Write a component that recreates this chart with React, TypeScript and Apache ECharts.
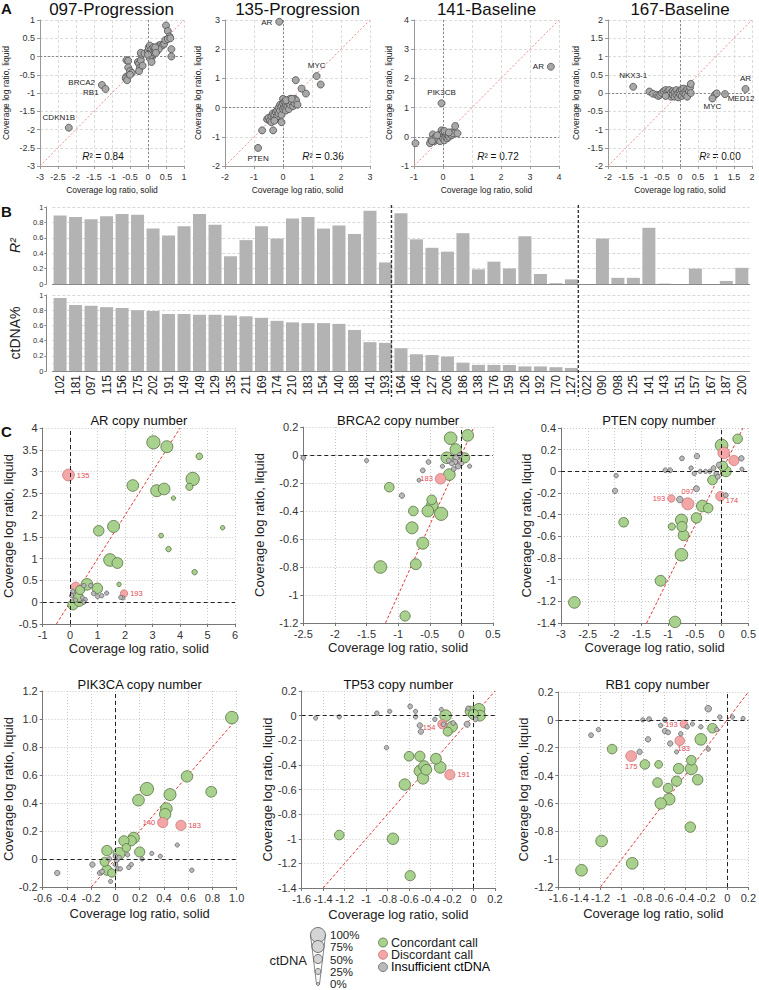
import React, { useEffect, useRef } from 'react';
import * as echarts from 'echarts';

const FONT = '"Liberation Sans", Arial, Helvetica, sans-serif';

// ---------------- Panel A data ----------------
const A_TITLES = ['097-Progression', '135-Progression', '141-Baseline', '167-Baseline'];
const A_R2 = ['0.84', '0.36', '0.72', '0.00'];
const A_RANGES = [
  [-3, 1, 0.5],
  [-2, 3, 1],
  [-1, 4, 1],
  [-2, 2, 0.5],
];
const A097_POINTS = [
  [-0.6, -0.1], [-0.55, -0.12], [-0.6, -0.55], [-0.62, -0.6], [-0.58, -0.65], [-0.55, -0.3],
  [-0.5, -0.4], [-0.45, -0.45], [-0.5, -0.5], [-0.28, -0.15], [-0.25, -0.2], [-0.22, -0.3],
  [-0.25, -0.4], [-0.2, -0.1], [-0.18, 0.05], [-0.2, 0.1], [-0.15, -0.25], [-0.1, 0.08],
  [0.0, 0.15], [0.02, 0.25], [0.05, 0.3], [0.05, 0.05], [0.08, 0.1], [0.1, 0.15], [0.1, 0.2],
  [0.12, 0.0], [0.12, 0.1], [0.15, 0.05], [0.15, 0.25], [0.18, 0.1], [0.2, 0.2], [0.05, -0.05],
  [0.1, -0.15], [0.0, 0.05], [0.25, 0.15], [0.3, 0.3], [0.35, 0.32], [0.4, 0.3], [0.45, 0.35],
  [0.48, 0.45], [0.5, 0.85], [0.55, 0.7], [0.6, 0.55], [0.55, 0.48], [0.62, 0.5], [0.65, 0.2],
  [0.65, 0.0], [0.3, 0.2], [0.2, 0.25], [0.22, 0.1],
];
const A097_GENES = [[-1.28, -0.78, 'BRCA2'], [-1.18, -0.89, 'RB1'], [-2.2, -1.95, 'CDKN1B']];
const A135_POINTS = [
  [-0.55, -0.4], [-0.5, -0.35], [-0.45, -0.45], [-0.4, -0.3], [-0.4, -0.5], [-0.35, -0.2],
  [-0.3, -0.35], [-0.3, -0.25], [-0.25, -0.4], [-0.25, -0.15], [-0.2, -0.3], [-0.2, -0.1],
  [-0.15, -0.2], [-0.15, 0.0], [-0.1, -0.1], [-0.1, 0.1], [-0.05, -0.25], [-0.05, 0.05],
  [0.0, -0.05], [0.0, 0.15], [0.0, 0.3], [0.05, 0.0], [0.05, 0.2], [0.1, 0.1], [0.1, -0.1],
  [0.15, 0.25], [0.15, 0.05], [0.2, 0.15], [0.2, -0.05], [0.25, 0.3], [0.25, 0.1], [0.3, 0.2],
  [0.35, 0.05], [0.4, 0.3], [0.4, 0.15], [0.45, 0.25], [0.5, 0.1], [-0.05, -0.5], [0.1, 0.25],
  [-0.3, -0.45], [0.3, 0.3], [1.3, 0.79], [0.79, 0.48], [0.64, 0.65], [0.44, 0.94],
  [-0.72, -0.78], [-0.34, -0.78],
];
const A135_GENES = [[-0.13, 2.94, 'AR'], [1.16, 1.08, 'MYC'], [-0.86, -1.38, 'PTEN']];
const A141_POINTS = [
  [-0.95, -0.22], [-0.45, -0.22], [-0.4, -0.1], [-0.35, 0.08], [-0.3, -0.05], [-0.3, -0.15],
  [-0.25, 0.0], [-0.2, -0.1], [-0.15, 0.05], [-0.1, 0.0], [-0.1, -0.15], [-0.05, 0.1],
  [-0.05, 0.22], [0.0, 0.15], [0.0, -0.05], [0.05, 0.05], [0.05, -0.12], [0.1, 0.1], [0.1, 0.0],
  [0.15, -0.05], [0.15, 0.08], [0.2, 0.0], [0.25, 0.1], [0.3, 0.15], [0.3, 0.05], [0.35, 0.12],
  [0.42, 0.37], [0.5, 0.12], [-0.2, 0.05], [0.05, 0.2], [-0.38, -0.15], [0.2, 0.15],
];
const A141_GENES = [[3.72, 2.4, 'AR'], [-0.05, 1.15, 'PIK3CB']];
const A167_POINTS = [
  [-0.85, 0.04], [-0.75, -0.02], [-0.65, -0.05], [-0.6, -0.08], [-0.55, -0.05], [-0.5, 0.0],
  [-0.45, 0.05], [-0.4, 0.08], [-0.35, -0.05], [-0.35, 0.03], [-0.3, 0.08], [-0.25, -0.1],
  [-0.25, 0.0], [-0.2, 0.05], [-0.2, -0.05], [-0.15, 0.02], [-0.15, -0.1], [-0.1, 0.08],
  [-0.1, -0.05], [-0.05, 0.0], [-0.05, -0.12], [0.0, 0.05], [0.0, -0.05], [0.05, 0.1],
  [0.05, -0.08], [0.1, 0.0], [0.1, 0.12], [0.15, 0.05], [0.15, -0.05], [0.2, 0.1], [0.2, -0.1],
  [0.25, 0.05], [0.28, 0.15], [0.3, 0.25], [0.3, 0.0], [-0.4, -0.08], [0.97, -0.05], [1.02, -0.01],
];
const A167_GENES = [[-1.3, 0.17, 'NKX3-1'], [0.9, -0.15, 'MYC'], [1.25, -0.03, 'MED12'], [1.82, 0.11, 'AR']];

// ---------------- Panel B data ----------------
const SAMPLES = [
  '102', '181', '097', '115', '156', '175', '202', '191', '149', '149', '129', '135', '211', '169',
  '174', '210', '183', '154', '140', '188', '141', '193',
  '164', '146', '127', '206', '186', '138', '176', '159', '126', '192', '170', '127',
  '022', '090', '098', '125', '141', '143', '151', '157', '167', '187', '200',
];
const R2_VALUES = [
  0.89, 0.87, 0.84, 0.88, 0.91, 0.9, 0.72, 0.63, 0.75, 0.91, 0.77, 0.36, 0.57, 0.75,
  0.59, 0.85, 0.87, 0.72, 0.76, 0.65, 0.95, 0.28,
  0.92, 0.58, 0.47, 0.42, 0.66, 0.19, 0.29, 0.2, 0.62, 0.13, 0.01, 0.06,
  0, 0.59, 0.08, 0.08, 0.73, 0.005, 0, 0.2, 0, 0.04, 0.21,
];
const CTDNA_VALUES = [
  0.96, 0.87, 0.86, 0.84, 0.83, 0.8, 0.79, 0.75, 0.75, 0.74, 0.74, 0.73, 0.72, 0.7,
  0.66, 0.64, 0.63, 0.63, 0.62, 0.54, 0.38, 0.37,
  0.3, 0.22, 0.21, 0.19, 0.11, 0.08, 0.08, 0.08, 0.06, 0.06, 0.05, 0.04,
  0, 0, 0, 0, 0, 0, 0, 0, 0, 0, 0,
];
const GROUP_BREAKS = [22, 34];

// ---------------- Panel C data: [solid, liquid, ctDNA fraction, call, sample] ----------------
// call: c = concordant, d = discordant, i = insufficient ctDNA
const AR_POINTS = [
  [3.03, 3.67, 0.85, 'c'], [3.52, 3.57, 0.75, 'c'], [4.7, 3.35, 0.3, 'c'], [-0.06, 2.92, 0.73, 'd', '135'],
  [2.28, 2.68, 0.72, 'c'], [3.15, 2.56, 0.75, 'c'], [3.42, 2.6, 0.72, 'c'], [4.46, 2.83, 0.86, 'c'],
  [4.34, 2.65, 0.35, 'c'], [3.76, 2.39, 0.12, 'c'], [5.55, 1.71, 0.12, 'c'], [3.31, 1.53, 0.15, 'c'],
  [3.58, 1.22, 0.2, 'c'], [4.53, 0.69, 0.2, 'c'], [1.04, 1.64, 0.62, 'c'], [1.58, 1.74, 0.75, 'c'],
  [1.45, 0.97, 0.8, 'c'], [1.72, 0.9, 0.65, 'c'], [1.78, 0.41, 0.12, 'c'], [1.96, 0.2, 0.37, 'd', '193'],
  [1.92, 0.1, 0.1, 'i'], [1.84, 0.11, 0.1, 'i'], [1.33, 0.21, 0.1, 'i'], [0.61, 0.41, 0.72, 'c'],
  [0.99, 0.32, 0.62, 'c'], [0.2, 0.36, 0.5, 'd'], [0.36, 0.28, 0.5, 'c'], [0.3, 0.12, 0.55, 'c'],
  [0.1, -0.06, 0.6, 'c'], [0.33, 0.02, 0.6, 'c'], [0.12, 0.2, 0.1, 'i'], [0.1, 0.25, 0.1, 'i'],
  [0.45, 0.1, 0.1, 'i'], [0.55, 0.06, 0.1, 'i'], [0.5, 0.0, 0.1, 'i'], [0.85, 0.2, 0.12, 'i'],
  [1.0, 0.13, 0.12, 'i'], [1.15, 0.15, 0.12, 'i'], [0.75, 0.38, 0.12, 'i'], [0.5, 0.38, 0.12, 'i'],
  [0.05, 0.15, 0.1, 'i'], [0.2, 0.05, 0.1, 'i'],
];
const BRCA2_POINTS = [
  [-0.17, 0.12, 0.8, 'c'], [0.1, 0.14, 0.72, 'c'], [-0.09, 0.04, 0.7, 'c'], [-0.23, -0.02, 0.72, 'c'],
  [0.05, -0.02, 0.6, 'c'], [-0.19, -0.14, 0.72, 'c'], [-0.33, -0.17, 0.63, 'd', '183'],
  [-0.67, -0.18, 0.08, 'i'], [-1.14, -0.23, 0.55, 'c'], [-0.94, -0.29, 0.2, 'i'], [-0.47, -0.32, 0.55, 'c'],
  [-0.46, -0.36, 0.72, 'c'], [-0.76, -0.4, 0.55, 'c'], [-0.53, -0.4, 0.72, 'c'], [-0.32, -0.42, 0.85, 'c'],
  [-0.78, -0.52, 0.75, 'c'], [-0.61, -0.63, 0.75, 'c'], [-0.72, -0.78, 0.65, 'c'], [-1.28, -0.8, 0.8, 'c'],
  [-0.89, -1.15, 0.6, 'c'], [-2.5, -0.02, 0.15, 'i'], [-1.5, -0.04, 0.1, 'i'], [-0.52, -0.05, 0.15, 'i'],
  [-0.61, -0.11, 0.15, 'i'], [0.13, -0.08, 0.1, 'i'], [-0.1, -0.05, 0.2, 'i'], [-0.05, -0.08, 0.2, 'i'],
  [-0.15, -0.06, 0.15, 'i'], [-0.02, 0.0, 0.2, 'i'], [-0.12, -0.1, 0.15, 'i'], [-0.08, -0.02, 0.25, 'i'],
  [-0.3, -0.08, 0.1, 'i'], [-0.2, -0.04, 0.15, 'i'], [0.0, -0.06, 0.15, 'i'],
];
const PTEN_POINTS = [
  [-2.75, -1.21, 0.72, 'c'], [-1.83, -0.47, 0.55, 'c'], [-1.14, -1.01, 0.65, 'c'], [-0.87, -1.39, 0.7, 'c'],
  [-0.75, -0.77, 0.8, 'c'], [-0.71, -0.59, 0.65, 'c'], [-0.75, -0.45, 0.75, 'c'], [-0.74, -0.51, 0.6, 'c'],
  [-0.93, -0.51, 0.35, 'c'], [-0.47, -0.43, 0.62, 'c'], [-0.36, -0.32, 0.72, 'c'], [-0.25, -0.34, 0.55, 'c'],
  [-0.17, -0.08, 0.55, 'c'], [0.08, 0.0, 0.65, 'c'], [0.02, 0.05, 0.55, 'c'], [0.3, 0.3, 0.55, 'c'],
  [0.0, 0.24, 0.8, 'c'], [-0.94, -0.25, 0.37, 'd', '193'], [-0.63, -0.3, 0.75, 'd', '097'],
  [-0.02, -0.23, 0.55, 'd', '174'], [0.04, 0.17, 0.72, 'd'], [0.23, 0.1, 0.6, 'd'],
  [-0.78, -0.26, 0.3, 'i'], [-0.47, -0.16, 0.25, 'i'], [0.08, -0.22, 0.15, 'i'], [-1.97, -0.04, 0.12, 'i'],
  [-1.99, -0.18, 0.2, 'i'], [-1.05, 0.01, 0.15, 'i'], [-0.96, 0.01, 0.15, 'i'], [-0.57, 0.03, 0.12, 'i'],
  [-0.51, -0.02, 0.12, 'i'], [-0.4, 0.0, 0.1, 'i'], [-0.3, 0.0, 0.1, 'i'], [-0.22, 0.0, 0.1, 'i'],
  [-0.15, 0.03, 0.15, 'i'], [-0.1, -0.02, 0.15, 'i'], [-0.07, -0.05, 0.15, 'i'], [-0.74, 0.12, 0.15, 'i'],
  [-0.46, 0.14, 0.2, 'i'], [0.37, 0.12, 0.2, 'i'], [0.38, 0.02, 0.1, 'i'], [-0.05, 0.06, 0.2, 'i'],
];
const PIK3CA_POINTS = [
  [0.96, 1.01, 0.8, 'c'], [0.59, 0.59, 0.7, 'c'], [0.79, 0.48, 0.65, 'c'], [0.26, 0.5, 0.85, 'c'],
  [0.45, 0.46, 0.75, 'c'], [0.19, 0.42, 0.72, 'c'], [0.42, 0.36, 0.72, 'c'], [0.41, 0.32, 0.7, 'c'],
  [0.39, 0.26, 0.6, 'd', '140'], [0.54, 0.24, 0.6, 'd', '183'], [0.15, 0.15, 0.7, 'c'], [0.13, 0.13, 0.6, 'c'],
  [0.07, 0.13, 0.6, 'c'], [0.09, 0.08, 0.45, 'c'], [0.2, 0.05, 0.6, 'c'], [-0.07, 0.06, 0.62, 'c'],
  [0.03, 0.04, 0.75, 'c'], [-0.09, -0.02, 0.5, 'c'], [-0.07, -0.08, 0.6, 'c'], [-0.03, -0.1, 0.45, 'c'],
  [-0.48, -0.1, 0.2, 'i'], [-0.19, -0.04, 0.2, 'i'], [-0.13, -0.1, 0.15, 'i'], [-0.11, -0.09, 0.15, 'i'],
  [-0.04, -0.16, 0.1, 'i'], [0.0, 0.02, 0.15, 'i'], [0.01, -0.01, 0.15, 'i'], [0.03, 0.01, 0.15, 'i'],
  [0.1, 0.03, 0.12, 'i'], [0.13, -0.04, 0.12, 'i'], [0.11, -0.06, 0.12, 'i'], [0.22, 0.0, 0.1, 'i'],
  [0.3, 0.04, 0.1, 'i'], [0.37, 0.02, 0.1, 'i'], [0.51, 0.1, 0.1, 'i'], [0.63, -0.08, 0.12, 'i'],
  [0.0, -0.04, 0.15, 'i'], [0.02, -0.07, 0.12, 'i'], [0.04, -0.07, 0.12, 'i'], [-0.05, 0.0, 0.15, 'i'],
];
const TP53_POINTS = [
  [-1.25, -0.97, 0.55, 'c'], [-0.75, -1.0, 0.7, 'c'], [-0.59, -1.3, 0.6, 'c'], [-0.64, -0.56, 0.7, 'c'],
  [-0.6, -0.33, 0.55, 'c'], [-0.5, -0.33, 0.6, 'c'], [-0.46, -0.41, 0.65, 'c'], [-0.5, -0.45, 0.7, 'c'],
  [-0.44, -0.44, 0.65, 'c'], [-0.47, -0.51, 0.7, 'c'], [-0.35, -0.35, 0.65, 'c'], [-0.31, -0.42, 0.72, 'c'],
  [-0.22, -0.48, 0.6, 'd', '191'], [-0.29, -0.07, 0.52, 'd', '154'], [-0.26, 0.0, 0.72, 'c'],
  [-0.2, -0.09, 0.65, 'c'], [-0.24, -0.13, 0.5, 'c'], [-0.03, 0.035, 0.6, 'c'], [0.05, 0.05, 0.75, 'c'],
  [0.06, 0.0, 0.65, 'c'], [0.0, 0.01, 0.6, 'c'], [-1.47, -0.02, 0.1, 'i'], [-1.25, -0.01, 0.12, 'i'],
  [-0.9, 0.02, 0.12, 'i'], [-0.78, 0.035, 0.1, 'i'], [-0.59, 0.075, 0.15, 'i'], [-0.54, 0.035, 0.1, 'i'],
  [-0.54, -0.01, 0.12, 'i'], [-0.5, -0.08, 0.2, 'i'], [-0.49, -0.13, 0.2, 'i'], [-0.36, -0.03, 0.12, 'i'],
  [-0.3, 0.05, 0.1, 'i'], [-0.19, -0.06, 0.15, 'i'], [-0.06, -0.07, 0.25, 'i'], [-0.81, -0.26, 0.12, 'i'],
  [0.02, -0.03, 0.15, 'i'], [-0.05, 0.06, 0.12, 'i'], [-0.28, -0.07, 0.15, 'i'],
];
const RB1_POINTS = [
  [-1.38, -1.08, 0.72, 'c'], [-1.19, -0.87, 0.72, 'c'], [-0.9, -1.03, 0.72, 'c'], [-1.09, -0.21, 0.55, 'c'],
  [-0.78, -0.32, 0.55, 'c'], [-0.65, -0.32, 0.4, 'c'], [-0.66, -0.45, 0.55, 'c'], [-0.56, -0.49, 0.55, 'c'],
  [-0.55, -0.57, 0.72, 'c'], [-0.63, -0.6, 0.7, 'c'], [-0.48, -0.44, 0.6, 'c'], [-0.46, -0.35, 0.62, 'c'],
  [-0.34, -0.35, 0.75, 'c'], [-0.34, -0.29, 0.55, 'c'], [-0.28, -0.43, 0.62, 'c'], [-0.35, -0.77, 0.62, 'c'],
  [-0.25, -0.14, 0.72, 'c'], [-0.14, -0.06, 0.55, 'c'], [-0.91, -0.26, 0.65, 'd', '175'],
  [-0.41, -0.03, 0.4, 'd', '193'], [-0.45, -0.15, 0.55, 'd', '183'], [-1.29, -0.11, 0.15, 'i'],
  [-1.22, -0.07, 0.12, 'i'], [-0.8, 0.0, 0.1, 'i'], [-0.74, 0.005, 0.15, 'i'], [-0.63, -0.04, 0.12, 'i'],
  [-0.59, 0.0, 0.15, 'i'], [-0.59, -0.08, 0.2, 'i'], [-0.56, -0.09, 0.15, 'i'], [-0.54, -0.17, 0.2, 'i'],
  [-0.48, -0.23, 0.1, 'i'], [-0.44, -0.1, 0.12, 'i'], [-0.38, -0.05, 0.12, 'i'], [-0.33, -0.03, 0.1, 'i'],
  [-0.83, -0.23, 0.2, 'i'], [-0.75, -0.14, 0.2, 'i'], [-0.25, -0.05, 0.12, 'i'], [-0.18, 0.08, 0.3, 'i'],
  [-0.18, -0.21, 0.12, 'i'], [-0.1, -0.07, 0.12, 'i'], [-0.07, 0.02, 0.12, 'i'], [0.05, 0.02, 0.1, 'i'],
  [0.15, 0.01, 0.1, 'i'],
];

const C_TITLES = ['AR copy number', 'BRCA2 copy number', 'PTEN copy number', 'PIK3CA copy number', 'TP53 copy number', 'RB1 copy number'];
const C_X_RANGES = [[-1, 6, 1], [-2.5, 0.5, 0.5], [-3, 0.5, 0.5], [-0.6, 1.0, 0.2], [-1.6, 0.2, 0.2], [-1.6, 0.2, 0.2]];
const C_Y_RANGES = [[-0.5, 4, 0.5], [-1.2, 0.2, 0.2], [-1.4, 0.4, 0.2], [-0.2, 1.2, 0.2], [-1.4, 0.2, 0.2], [-1.2, 0.2, 0.2]];
const C_POINTS = [AR_POINTS, BRCA2_POINTS, PTEN_POINTS, PIK3CA_POINTS, TP53_POINTS, RB1_POINTS];
const LEGEND_LEVELS = [1, 0.75, 0.5, 0.25, 0];
const LEGEND_CALLS = ['Concordant call', 'Discordant call', 'Insufficient ctDNA'];

// ---------------- layout / styles ----------------
const GRIDS = [
  { left: 39, top: 20, width: 145, height: 146 },
  { left: 225, top: 20, width: 145, height: 146 },
  { left: 414, top: 20, width: 145, height: 146 },
  { left: 608, top: 20, width: 144, height: 146 },
  { left: 48.9, top: 207, width: 700.7, height: 77 },
  { left: 48.9, top: 295, width: 700.7, height: 76 },
  { left: 42.7, top: 428, width: 192.3, height: 196 },
  { left: 303.3, top: 427, width: 189.7, height: 196 },
  { left: 561, top: 428, width: 195.7, height: 195 },
  { left: 42.7, top: 691, width: 194, height: 196 },
  { left: 301.7, top: 691, width: 193.3, height: 197 },
  { left: 558.3, top: 692, width: 198.3, height: 195 },
];
const A_YGAP = [30, 23, 21, 28];
const A_R2_X = [103, 323, 498, 720];
const C_YGAP = [26, 37, 26.5, 26, 27, 24.5];

const A_LABEL_POS: Record<string, any> = {
  '0:BRCA2': { position: 'left', offset: [0, -2] },
  '0:RB1': { position: 'left', offset: [0, 4] },
  '0:CDKN1B': { position: 'top', offset: [-10, 1] },
  '1:AR': { position: 'left', offset: [0, 1] },
  '1:MYC': { position: 'top' },
  '1:PTEN': { position: 'bottom' },
  '2:AR': { position: 'left' },
  '2:PIK3CB': { position: 'top' },
  '3:NKX3-1': { position: 'top' },
  '3:MYC': { position: 'bottom', offset: [0, -3] },
  '3:MED12': { position: 'bottom', offset: [16, -6] },
  '3:AR': { position: 'top' },
};
const C_LABEL_POS: Record<string, any> = {
  '0:135': { position: 'right' },
  '0:193': { position: 'right' },
  '1:183': { position: 'left' },
  '2:193': { position: 'left' },
  '2:097': { position: 'top' },
  '2:174': { position: 'right', offset: [-2, 4] },
  '3:140': { position: 'left' },
  '3:183': { position: 'right' },
  '4:154': { position: 'left', offset: [0, 3] },
  '4:191': { position: 'right' },
  '5:175': { position: 'bottom', offset: [0, -1] },
  '5:193': { position: 'left' },
  '5:183': { position: 'bottom', offset: [4, -3] },
};
const CALL_STYLE: Record<string, any> = {
  c: { color: '#a9d18e', borderColor: '#56703f' },
  d: { color: '#f4a6a6', borderColor: '#c67878' },
  i: { color: '#b9b9b9', borderColor: '#666666' },
};
const sizeOf = (p: number) => 3 + 12 * p;
const fmt = (v: number) => String(Math.round(v * 1000) / 1000);
const fmt1 = (v: number) => {
  const r = Math.round(v * 1000) / 1000;
  return r === 0 ? '0' : r.toFixed(1);
};

function valueAxis(gi: number, r: number[], o: any) {
  return {
    type: 'value',
    gridIndex: gi,
    min: r[0],
    max: r[1],
    interval: r[2],
    axisLine: { show: true, onZero: false, lineStyle: { color: o.axisColor, width: 1 } },
    axisTick: { show: true, length: 3, lineStyle: { color: o.axisColor } },
    axisLabel: { fontSize: o.fs, color: '#333', margin: o.margin, fontFamily: FONT, formatter: o.formatter || fmt, hideOverlap: false },
    splitLine: { show: true, lineStyle: { type: o.splitType, color: o.splitColor, width: 1 } },
    name: o.name,
    nameLocation: 'middle',
    nameGap: o.nameGap,
    nameTextStyle: { fontSize: o.nameFs, color: '#222', fontFamily: FONT },
  };
}

function buildOption() {
  const xAxis: any[] = [];
  const yAxis: any[] = [];
  const series: any[] = [];
  const graphic: any[] = [];

  // ---------- Panel A ----------
  const aPts = [A097_POINTS, A135_POINTS, A141_POINTS, A167_POINTS];
  const aGenes = [A097_GENES, A135_GENES, A141_GENES, A167_GENES];
  for (let k = 0; k < 4; k++) {
    const r = A_RANGES[k];
    const common = { axisColor: '#999', fs: 9, splitType: [3, 2], splitColor: '#dcdcdc', nameFs: 8.5 };
    xAxis.push(valueAxis(k, r, { ...common, margin: 6, name: 'Coverage log ratio, solid', nameGap: 19.5 }));
    yAxis.push(valueAxis(k, r, { ...common, margin: 5, name: 'Coverage log ratio, liquid', nameGap: A_YGAP[k] }));
    series.push({
      type: 'line', xAxisIndex: k, yAxisIndex: k, symbol: 'none', silent: true, z: 1,
      data: [[r[0], r[0]], [r[1], r[1]]],
      lineStyle: { color: '#ee8a8a', width: 1, type: [2, 2] },
      markLine: {
        silent: true, symbol: ['none', 'none'], label: { show: false },
        lineStyle: { color: '#888', type: [2, 2], width: 1 },
        data: [{ xAxis: 0 }, { yAxis: 0 }],
      },
    });
    const pts = aPts[k].map((p) => ({ value: p }));
    const genes = aGenes[k].map((g: any) => {
      const pos = A_LABEL_POS[k + ':' + g[2]] || { position: 'right' };
      return {
        value: [g[0], g[1]],
        label: { show: true, formatter: g[2], distance: 3, fontSize: 8, color: '#222', fontFamily: FONT, ...pos },
      };
    });
    series.push({
      type: 'scatter', xAxisIndex: k, yAxisIndex: k, symbolSize: 7, z: 3,
      itemStyle: { color: '#a8a8a8', borderColor: '#505050', borderWidth: 0.8, opacity: 1 },
      data: [...pts, ...genes],
    });
    const g = GRIDS[k];
    graphic.push({
      type: 'text', x: g.left + g.width / 2, y: 0.5,
      style: { text: A_TITLES[k], fontSize: 17, fontFamily: FONT, fill: '#111', align: 'center', verticalAlign: 'top' },
    });
    graphic.push({
      type: 'text', x: A_R2_X[k], y: 156,
      style: {
        text: '{i|R}² = ' + A_R2[k], fontSize: 10, fontFamily: FONT, fill: '#111', align: 'center', verticalAlign: 'middle',
        rich: { i: { fontStyle: 'italic', fontSize: 10, fontFamily: FONT, fill: '#111' } },
      },
    });
  }

  // ---------- Panel B ----------
  const bAxisY = (gi: number, name: string, italic: boolean, minor: boolean) => ({
    type: 'value', gridIndex: gi, min: 0, max: 1, interval: 0.2, offset: 6,
    axisLine: { show: true, lineStyle: { color: '#888' } },
    axisTick: { show: true, length: 2, lineStyle: { color: '#888' } },
    axisLabel: { fontSize: 7.5, color: '#333', margin: 3, fontFamily: FONT, formatter: fmt },
    splitLine: { show: true, lineStyle: { type: [3, 2], color: '#d8d8d8' } },
    minorTick: { show: false, splitNumber: 2 },
    minorSplitLine: { show: minor, lineStyle: { type: [3, 2], color: '#e2e2e2' } },
    name, nameLocation: 'middle', nameGap: 18,
    nameTextStyle: { fontSize: 14, color: '#222', fontFamily: FONT, fontStyle: italic ? 'italic' : 'normal' },
  });
  xAxis.push({
    type: 'category', gridIndex: 4, data: SAMPLES,
    axisLine: { show: true, lineStyle: { color: '#888' } }, axisTick: { show: false }, axisLabel: { show: false },
  });
  xAxis.push({
    type: 'category', gridIndex: 5, data: SAMPLES,
    axisLine: { show: true, lineStyle: { color: '#888' } }, axisTick: { show: false },
    axisLabel: { show: true, interval: 0, rotate: 90, fontSize: 12, color: '#222', margin: 4, fontFamily: FONT },
  });
  yAxis.push(bAxisY(4, 'R²', true, false));
  yAxis.push(bAxisY(5, 'ctDNA%', false, true));
  series.push({
    type: 'bar', xAxisIndex: 4, yAxisIndex: 4, data: R2_VALUES, barCategoryGap: '16%',
    itemStyle: { color: '#b3b3b3' }, silent: true,
  });
  series.push({
    type: 'bar', xAxisIndex: 5, yAxisIndex: 5, data: CTDNA_VALUES, barCategoryGap: '16%',
    itemStyle: { color: '#b3b3b3' }, silent: true,
  });
  const gb = GRIDS[4];
  GROUP_BREAKS.forEach((b) => {
    const x = gb.left + (gb.width * b) / SAMPLES.length;
    graphic.push({
      type: 'line', shape: { x1: x, y1: 205, x2: x, y2: 397 },
      style: { stroke: '#333', lineWidth: 1.4, lineDash: [3, 2] }, z: 10,
    });
  });

  // ---------- Panel C ----------
  for (let k = 0; k < 6; k++) {
    const gi = 6 + k;
    const row2 = k >= 3;
    const f = k === 3 ? fmt1 : fmt;
    const common = { axisColor: '#777', fs: 11, splitType: [1, 2], splitColor: '#c8c8c8', nameFs: 13, formatter: f };
    xAxis.push(valueAxis(gi, C_X_RANGES[k], { ...common, margin: 5, name: 'Coverage log ratio, solid', nameGap: row2 ? 19.5 : 17.5 }));
    yAxis.push(valueAxis(gi, C_Y_RANGES[k], { ...common, margin: 5, name: 'Coverage log ratio, liquid', nameGap: C_YGAP[k] }));
    const xr = C_X_RANGES[k];
    const yr = C_Y_RANGES[k];
    const lo = Math.max(xr[0], yr[0]);
    const hi = Math.min(xr[1], yr[1]);
    series.push({
      type: 'line', xAxisIndex: gi, yAxisIndex: gi, symbol: 'none', silent: true, z: 2,
      data: [[lo, lo], [hi, hi]],
      lineStyle: { color: '#e03a3a', width: 1, type: [3, 2] },
      markLine: {
        silent: true, symbol: ['none', 'none'], label: { show: false },
        lineStyle: { color: '#222', type: [4, 3], width: 1 },
        data: [{ xAxis: 0 }, { yAxis: 0 }],
      },
    });
    const pts = [...C_POINTS[k]].sort((a: any, b: any) => b[2] - a[2]);
    const data = pts.map((p: any) => {
      const st = CALL_STYLE[p[3]];
      const item: any = {
        value: [p[0], p[1]],
        symbolSize: sizeOf(p[2]),
        itemStyle: { color: st.color, borderColor: st.borderColor, borderWidth: 0.8 },
      };
      if (p[4]) {
        const pos = C_LABEL_POS[k + ':' + p[4]] || { position: 'right' };
        item.label = { show: true, formatter: p[4], distance: 2, fontSize: 7.5, color: '#e24a55', fontFamily: FONT, ...pos };
      }
      return item;
    });
    series.push({ type: 'scatter', xAxisIndex: gi, yAxisIndex: gi, z: 4, data, itemStyle: { opacity: 1 } });
    const g = GRIDS[gi];
    graphic.push({
      type: 'text', x: g.left + g.width / 2, y: row2 ? 684 : 420,
      style: { text: C_TITLES[k], fontSize: 13, fontFamily: FONT, fill: '#111', align: 'center', verticalAlign: 'middle' },
    });
  }

  // ---------- Panel letters ----------
  [['A', 8], ['B', 211], ['C', 431]].forEach(([t, y]: any) => {
    graphic.push({
      type: 'text', x: 1, y,
      style: { text: t, fontSize: 15, fontWeight: 'bold', fontFamily: FONT, fill: '#111', verticalAlign: 'middle' },
    });
  });

  // ---------- Legend ----------
  const cx = 318;
  const ys = [935, 946.5, 959, 971.5, 984];
  const textYs = [934.5, 947, 959.5, 972, 984];
  const r0 = sizeOf(LEGEND_LEVELS[0]) / 2;
  const r4 = sizeOf(LEGEND_LEVELS[4]) / 2;
  graphic.push({ type: 'polyline', shape: { points: [[cx - r0, ys[0]], [cx - r4, ys[4]]] }, style: { stroke: '#666', lineWidth: 0.8, fill: 'none' } });
  graphic.push({ type: 'polyline', shape: { points: [[cx + r0, ys[0]], [cx + r4, ys[4]]] }, style: { stroke: '#666', lineWidth: 0.8, fill: 'none' } });
  LEGEND_LEVELS.forEach((lv, i) => {
    graphic.push({
      type: 'circle', shape: { cx, cy: ys[i], r: sizeOf(lv) / 2 },
      style: { fill: '#d4d4d4', stroke: '#555', lineWidth: 0.8 },
    });
    graphic.push({
      type: 'text', x: 330, y: textYs[i],
      style: { text: Math.round(lv * 100) + '%', fontSize: 11.5, fontFamily: FONT, fill: '#222', verticalAlign: 'middle' },
    });
  });
  graphic.push({
    type: 'text', x: 307, y: 960,
    style: { text: 'ctDNA', fontSize: 13, fontFamily: FONT, fill: '#222', align: 'right', verticalAlign: 'middle' },
  });
  const callKeys = ['c', 'd', 'i'];
  LEGEND_CALLS.forEach((t, i) => {
    const st = CALL_STYLE[callKeys[i]];
    const y = 942.5 + i * 12.3;
    graphic.push({ type: 'circle', shape: { cx: 383, cy: y, r: 4.5 }, style: { fill: st.color, stroke: st.borderColor, lineWidth: 0.8 } });
    graphic.push({
      type: 'text', x: 391, y,
      style: { text: t, fontSize: 12.5, fontFamily: FONT, fill: i === 2 ? '#000' : '#222', verticalAlign: 'middle' },
    });
  });

  return {
    animation: false,
    backgroundColor: '#ffffff',
    textStyle: { fontFamily: FONT },
    grid: GRIDS.map((g) => ({ ...g, containLabel: false })),
    xAxis,
    yAxis,
    series,
    graphic: { elements: graphic },
  };
}

export default function App() {
  const ref = useRef<HTMLDivElement>(null);
  useEffect(() => {
    if (!ref.current) return;
    const chart = echarts.init(ref.current, null, { renderer: 'svg', width: 759, height: 990 });
    chart.setOption(buildOption() as any);
    return () => chart.dispose();
  }, []);
  return (
    <div
      ref={ref}
      style={{ position: 'absolute', left: 0, top: 0, width: 759, height: 990, background: '#fff' }}
    />
  );
}
